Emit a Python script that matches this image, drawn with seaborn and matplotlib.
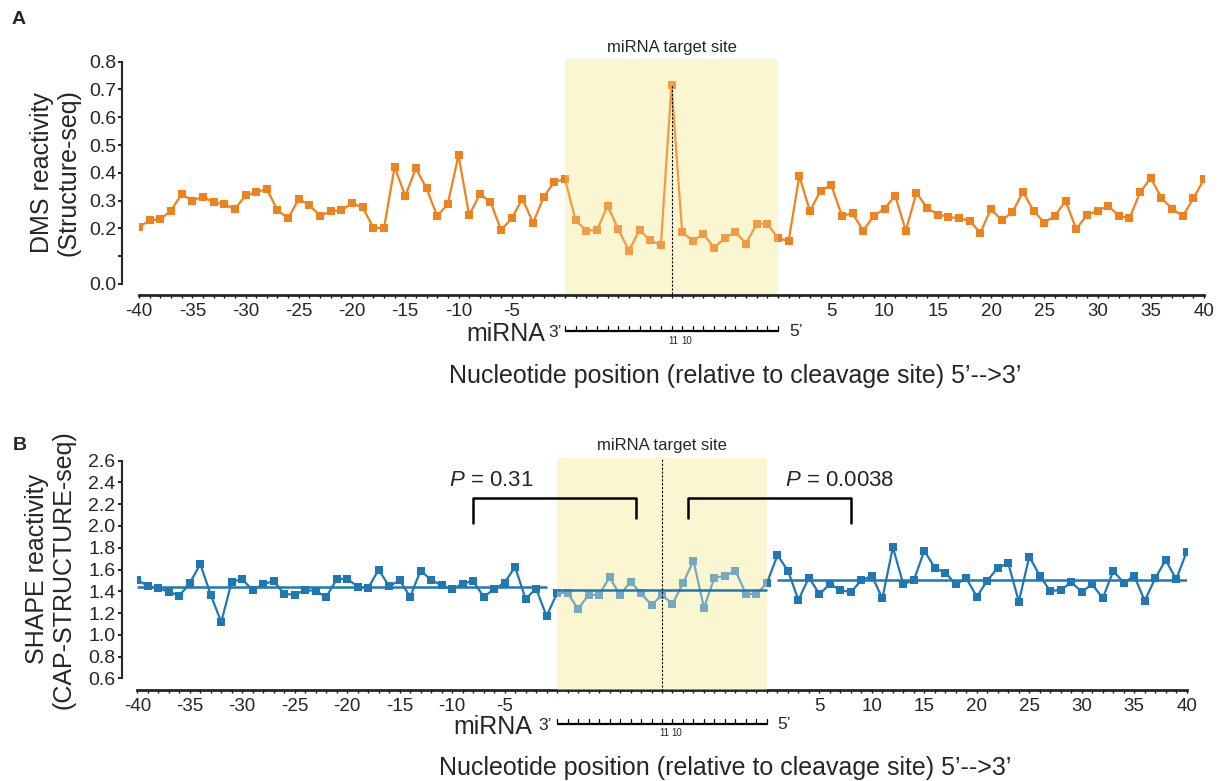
import numpy as np
import pandas as pd
import matplotlib
matplotlib.use("Agg")
import matplotlib.pyplot as plt
import matplotlib.transforms as mtransforms
import seaborn as sns

# ---------------- data ----------------
upstream = list(range(-40, 0))        # -40 .. -1
site_len = 21                          # miRNA target site positions
downstream = list(range(1, 41))        # 1 .. 40
tick_numbers = [-40, -35, -30, -25, -20, -15, -10, -5, 5, 10, 15, 20, 25, 30, 35, 40]

dms_reactivity = [
    0.205, 0.229, 0.233, 0.264, 0.323, 0.300, 0.314, 0.294, 0.287, 0.269,
    0.319, 0.330, 0.342, 0.266, 0.236, 0.306, 0.284, 0.245, 0.262, 0.265,
    0.290, 0.276, 0.203, 0.200, 0.421, 0.317, 0.416, 0.344, 0.244, 0.289,
    0.464, 0.247, 0.323, 0.296, 0.194, 0.236, 0.307, 0.220, 0.313, 0.368,
    0.377, 0.229, 0.192, 0.194, 0.281, 0.197, 0.120, 0.194, 0.157, 0.140,
    0.716, 0.186, 0.156, 0.179, 0.131, 0.164, 0.187, 0.145, 0.217, 0.217,
    0.164, 0.155, 0.389, 0.262, 0.336, 0.356, 0.246, 0.254, 0.192, 0.246,
    0.271, 0.318, 0.192, 0.328, 0.274, 0.250, 0.242, 0.236, 0.228, 0.184,
    0.271, 0.229, 0.258, 0.331, 0.263, 0.221, 0.245, 0.299, 0.198, 0.248,
    0.263, 0.281, 0.246, 0.236, 0.330, 0.382, 0.310, 0.271, 0.244, 0.308,
    0.377,
]

shape_reactivity = [
    1.506, 1.448, 1.427, 1.396, 1.359, 1.473, 1.651, 1.366, 1.117, 1.488,
    1.510, 1.409, 1.467, 1.492, 1.375, 1.368, 1.412, 1.402, 1.347, 1.510,
    1.516, 1.442, 1.430, 1.598, 1.446, 1.501, 1.350, 1.589, 1.504, 1.455,
    1.418, 1.470, 1.494, 1.350, 1.418, 1.479, 1.623, 1.329, 1.424, 1.173,
    1.381, 1.387, 1.237, 1.366, 1.366, 1.528, 1.366, 1.488, 1.381, 1.274,
    1.366, 1.283, 1.473, 1.681, 1.249, 1.525, 1.540, 1.589, 1.375, 1.375,
    1.476, 1.731, 1.589, 1.320, 1.525, 1.375, 1.464, 1.412, 1.390, 1.503,
    1.540, 1.335, 1.804, 1.464, 1.503, 1.773, 1.614, 1.571, 1.464, 1.519,
    1.350, 1.497, 1.617, 1.657, 1.304, 1.718, 1.543, 1.402, 1.412, 1.482,
    1.396, 1.464, 1.335, 1.586, 1.479, 1.540, 1.313, 1.519, 1.687, 1.510,
    1.764,
]

# mean SHAPE reactivity of upstream / target site / downstream regions
segment_means = [1.44, 1.414, 1.503]
p_values = ["0.31", "0.0038"]

# ---------------- style ----------------
sns.set_style("ticks")
plt.rcParams["font.family"] = ["Liberation Sans", "DejaVu Sans"]
plt.rcParams["mathtext.fontset"] = "custom"
plt.rcParams["mathtext.rm"] = "Liberation Sans"
plt.rcParams["mathtext.it"] = "Liberation Sans:italic"

ORANGE = "#F0821E"
BLUE = "#1F77B4"
YELLOW = "#FAF6D2"

n_up = len(upstream)
n_total = n_up + site_len + len(downstream)
x_idx = np.arange(n_total)
site_start = n_up
site_end = n_up + site_len - 1
site_center = n_up + site_len // 2

# map numeric positions to x index
def pos_to_idx(p):
    return p + n_up if p < 0 else n_up + site_len - 1 + p

tick_labels = [""] * n_total
for t in tick_numbers:
    tick_labels[pos_to_idx(t)] = str(t)

df_a = pd.DataFrame({"x": x_idx, "y": dms_reactivity})
df_b = pd.DataFrame({"x": x_idx, "y": shape_reactivity})

W, H = 1221, 781
fig = plt.figure(figsize=(W / 100, H / 100), dpi=100)

axA = fig.add_axes([139 / W, 1 - 284 / H, (1204 - 139) / W, (284 - 61.7) / H])
axB = fig.add_axes([137.3 / W, 1 - 678.3 / H, (1186.7 - 137.3) / W, (678.3 - 460.7) / H])


def style_axis(ax, ylim, yticks, ylabels, left_off, bottom_off):
    ax.set_xlim(0, n_total - 1)
    ax.set_ylim(*ylim)
    ax.set_xticks(x_idx)
    ax.set_xticklabels(tick_labels)
    ax.set_yticks(yticks)
    ax.set_yticklabels(ylabels)
    ax.spines["top"].set_visible(False)
    ax.spines["right"].set_visible(False)
    ax.spines["left"].set_position(("outward", left_off))
    ax.spines["bottom"].set_position(("outward", bottom_off))
    ax.spines["left"].set_linewidth(1.5)
    ax.spines["bottom"].set_linewidth(2.0)
    ax.tick_params(axis="x", length=2.5, width=1.0, pad=3, direction="out",
                   color="black", labelsize=13.5)
    ax.tick_params(axis="y", length=3, width=1.2, pad=1.5, direction="out",
                   color="black", labelsize=14)
    ax.set_xlabel("")
    ax.set_ylabel("")
    ax.patch.set_alpha(0)


def site_shading(ax, ymin, ymax, overlay_alpha):
    ax.axvspan(site_start, site_end, ymin=ymin, ymax=ymax, color=YELLOW, lw=0,
               zorder=0, clip_on=False)
    ax.axvspan(site_start, site_end, ymin=ymin, ymax=ymax, color=YELLOW, lw=0,
               alpha=overlay_alpha, zorder=4, clip_on=False)


def mirna_bar(ax, label_x, three_x, five_x, base_y):
    tr = mtransforms.blended_transform_factory(ax.transData, ax.transAxes)
    bar_y = base_y + 0.045
    ax.plot([site_start, site_end], [bar_y, bar_y], color="black", lw=1.6,
            transform=tr, clip_on=False, solid_capstyle="butt")
    for i in range(site_start, site_end + 1):
        ax.plot([i, i], [bar_y, bar_y + 0.022], color="black", lw=0.9,
                transform=tr, clip_on=False)
    ax.text(label_x, base_y - 0.003, "miRNA", fontsize=18, ha="right", va="baseline",
            transform=tr)
    ax.text(three_x, base_y + 0.015, "3\u2019", fontsize=12.5, ha="left", va="baseline",
            transform=tr)
    ax.text(five_x, base_y + 0.022, "5\u2019", fontsize=12.5, ha="left", va="baseline",
            transform=tr)
    ax.text(site_center + 0.2, base_y, "11", fontsize=7, ha="center", va="center",
            transform=tr)
    ax.text(site_center + 1.4, base_y, "10", fontsize=7, ha="center", va="center",
            transform=tr)
    ax.text(56, base_y - 0.16, "Nucleotide position (relative to cleavage site) 5\u2019-->3\u2019",
            fontsize=18, ha="center", va="center", transform=tr)


# ---------------- panel A ----------------
sns.lineplot(data=df_a, x="x", y="y", ax=axA, color=ORANGE, marker="s", markersize=5.6,
             markeredgewidth=0, linewidth=1.6, estimator=None, zorder=3)
style_axis(axA, (0, 0.8), np.round(np.arange(0, 0.81, 0.1), 1),
           ["0.0", "", "0.2", "0.3", "0.4", "0.5", "0.6", "0.7", "0.8"], 12, 8)
site_shading(axA, -0.045, 1.011, 0.22)
axA.axvline(site_center, ymin=-0.045, ymax=dms_reactivity[site_center] / 0.8,
            color="black", lw=0.8, ls=(0, (2, 1.5)), zorder=6, clip_on=False)
axA.text(site_center, 1.066, "miRNA target site", fontsize=12, ha="center", va="center",
         transform=mtransforms.blended_transform_factory(axA.transData, axA.transAxes))
axA.set_ylabel("DMS reactivity\n(Structure-seq)", fontsize=18, labelpad=6, linespacing=1.15)
mirna_bar(axA, 38.1, 38.4, 61.1, -0.255)

# ---------------- panel B ----------------
sns.lineplot(data=df_b, x="x", y="y", ax=axB, color=BLUE, marker="s", markersize=5.6,
             markeredgewidth=0, linewidth=1.6, estimator=None, zorder=3)
style_axis(axB, (0.6, 2.6), np.round(np.arange(0.6, 2.61, 0.2), 1),
           [f"{v:.1f}" for v in np.arange(0.6, 2.61, 0.2)], 11.2, 8.4)
site_shading(axB, -0.054, 1.011, 0.4)
segments = [(0, n_up - 1), (site_start, site_end), (site_end + 1, n_total - 1)]
for (s, e), m in zip(segments, segment_means):
    axB.plot([s, e], [m, m], color=BLUE, lw=1.8, zorder=5, solid_capstyle="butt")
axB.axvline(site_center, ymin=-0.06, ymax=1.011, color="black", lw=0.8,
            ls=(0, (2, 1.5)), zorder=6, clip_on=False)
axB.text(site_center, 1.068, "miRNA target site", fontsize=12, ha="center", va="center",
         transform=mtransforms.blended_transform_factory(axB.transData, axB.transAxes))
axB.set_ylabel("SHAPE reactivity\n(CAP-STRUCTURE-seq)", fontsize=18, labelpad=9,
               linespacing=1.15)

# significance brackets
axB.plot([32, 32, 47.5, 47.5], [2.03, 2.26, 2.26, 2.07], color="black", lw=1.8,
         zorder=6, clip_on=False)
axB.plot([52.5, 52.5, 68, 68], [2.07, 2.26, 2.26, 2.03], color="black", lw=1.8,
         zorder=6, clip_on=False)
axB.text(33.7, 2.42, f"$P$ = {p_values[0]}", fontsize=16, ha="center", va="center")
axB.text(66.9, 2.42, f"$P$ = {p_values[1]}", fontsize=16, ha="center", va="center")
mirna_bar(axB, 37.6, 38.2, 61.0, -0.253)

# panel letters
fig.text(19 / W, 1 - 19.5 / H, "A", fontsize=14, fontweight="bold", ha="center", va="center")
fig.text(20 / W, 1 - 446 / H, "B", fontsize=14, fontweight="bold", ha="center", va="center")

fig.savefig("out.png", dpi=100)
